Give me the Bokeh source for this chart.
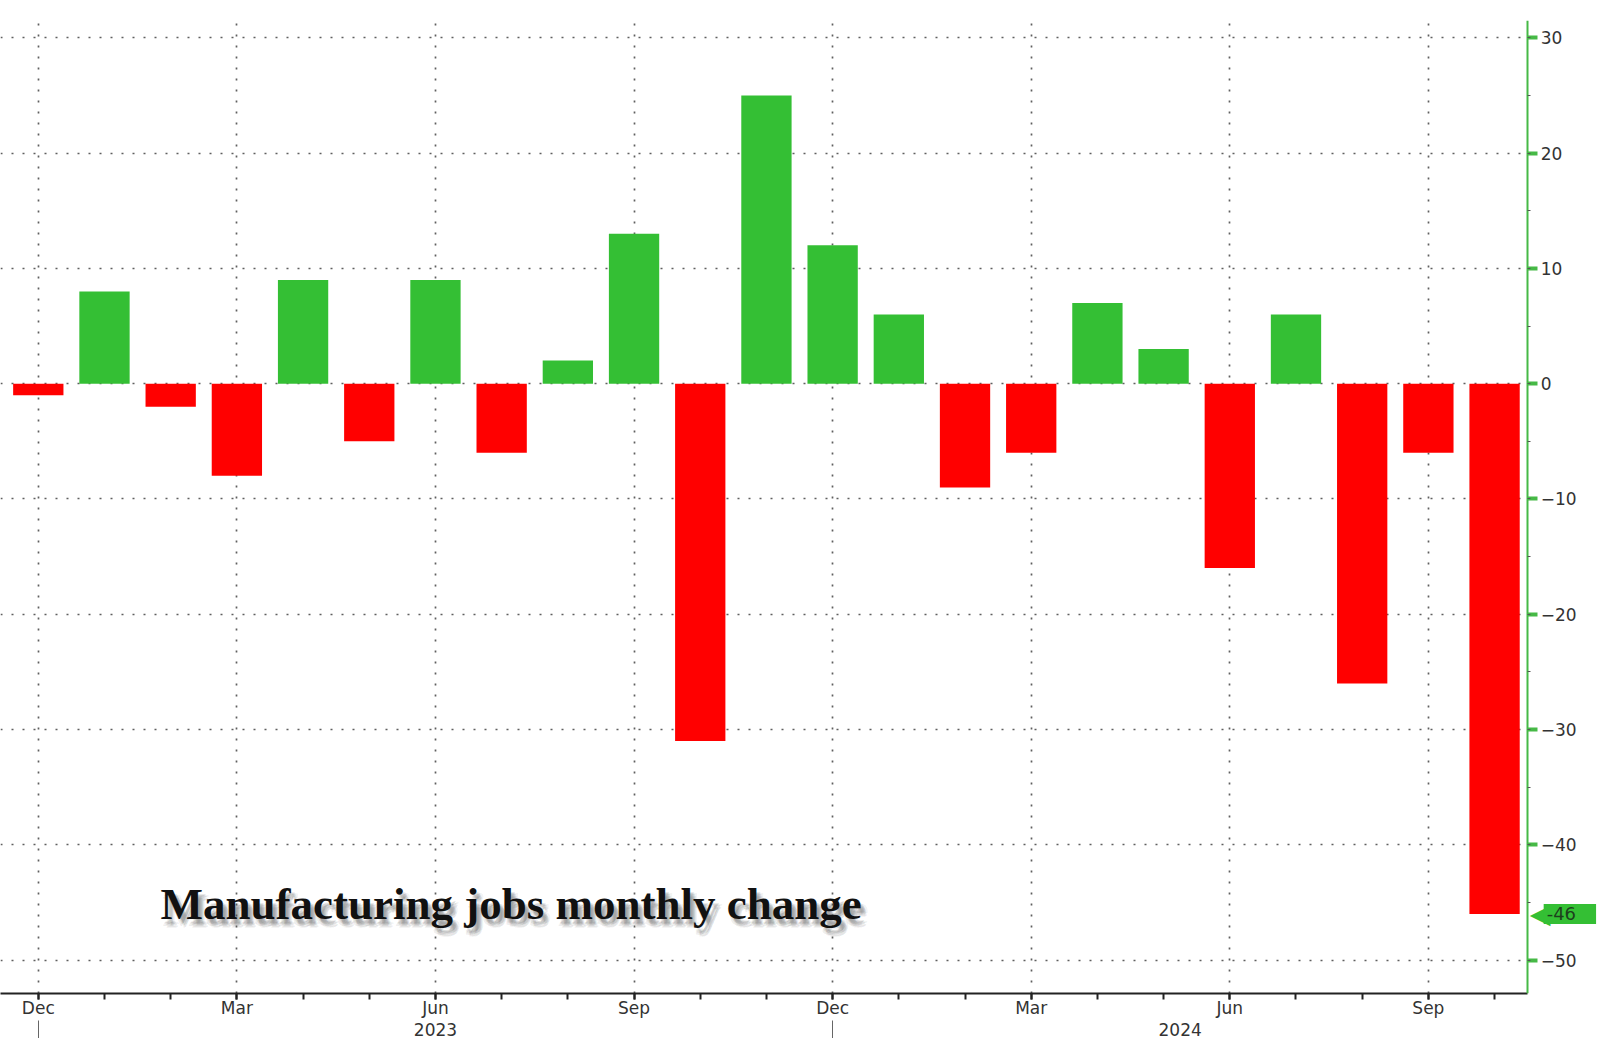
from bokeh.plotting import figure
from bokeh.models import Range1d, LinearAxis, FixedTicker, Label, ColumnDataSource, BoxAnnotation
from bokeh.embed import file_html
from bokeh.resources import INLINE

# ---- data ----
months = ["Dec", "Jan", "Feb", "Mar", "Apr", "May", "Jun", "Jul", "Aug", "Sep", "Oct", "Nov",
          "Dec", "Jan", "Feb", "Mar", "Apr", "May", "Jun", "Jul", "Aug", "Sep", "Oct"]
changes = [-1, 8, -2, -8, 9, -5, 9, -6, 2, 13, -31, 25,
           12, 6, -9, -6, 7, 3, -16, 6, -26, -6, -46]
years = ["2023", "2024"]
year_pos = [6, 17.25]
year_breaks = [0, 12]
y_ticks = [30, 20, 10, 0, -10, -20, -30, -40, -50]
y_minor = list(range(-50, 35, 5))
title_text = "Manufacturing jobs monthly change"

GREEN = "#34BF34"
RED = "#FF0000"
AXIS_GREEN = "#46B946"
TXT = "#333333"
FONT = "DejaVu Sans"

X0, XAXIS, X1 = -0.571, 22.5, 23.57

x = list(range(len(changes)))
colors = [GREEN if v >= 0 else RED for v in changes]
src = ColumnDataSource(dict(x=x, top=changes, color=colors))

p = figure(frame_width=1598, frame_height=973,
           x_range=Range1d(X0, X1), y_range=Range1d(-52.9, 31.5),
           output_backend="svg", toolbar_location=None, y_axis_location="right",
           min_border_left=0, min_border_right=0, min_border_top=20, min_border_bottom=0,
           background_fill_color="white", border_fill_color="white", outline_line_color=None)

# ---- grid ----
for g in (p.xgrid[0], p.ygrid[0]):
    g.grid_line_color = "#5f5f5f"
    g.grid_line_dash = "2 9"
    g.grid_line_width = 1.7

# blank strip to the right of the value axis (hides grid there)
p.add_layout(BoxAnnotation(left=XAXIS, level="underlay", fill_color="white",
                           fill_alpha=1, line_color=None))

p.vbar(x="x", top="top", bottom=0, width=0.76, fill_color="color", line_color=None, source=src)

# ---- x axis (months) ----
major_idx = [i for i, m in enumerate(months) if m in ("Dec", "Mar", "Jun", "Sep")]
xa = p.xaxis[0]
xa.ticker = FixedTicker(ticks=major_idx, minor_ticks=x)
xa.bounds = (X0, XAXIS)
xa.major_label_overrides = {i: months[i] for i in major_idx}
xa.axis_line_color = "#222222"
xa.axis_line_width = 2
xa.major_tick_line_color = "#222222"
xa.minor_tick_line_color = "#222222"
xa.major_tick_line_width = 2
xa.minor_tick_line_width = 2
xa.major_tick_out = 6
xa.major_tick_in = 0
xa.minor_tick_out = 6
xa.minor_tick_in = 0
xa.major_label_standoff = -2
xa.major_label_text_font = FONT
xa.major_label_text_font_size = "17px"
xa.major_label_text_color = TXT

# year labels + separator ticks (minor ticks at year breaks)
xa2 = LinearAxis(ticker=FixedTicker(ticks=year_pos, minor_ticks=year_breaks),
                 major_label_overrides={pos: yr for pos, yr in zip(year_pos, years)},
                 major_label_text_font=FONT, major_label_text_font_size="17px",
                 major_label_text_color=TXT, major_label_standoff=-20,
                 axis_line_color=None, major_tick_out=0, major_tick_in=0,
                 major_tick_line_color=None,
                 minor_tick_out=22, minor_tick_in=0,
                 minor_tick_line_color="#666666", minor_tick_line_width=1)
p.add_layout(xa2, "below")

# ---- y axis (right, drawn at the end of the time axis) ----
ya = p.yaxis[0]
ya.fixed_location = XAXIS
ya.ticker = FixedTicker(ticks=y_ticks, minor_ticks=y_minor)
ya.axis_line_color = AXIS_GREEN
ya.axis_line_width = 2
ya.major_tick_line_color = AXIS_GREEN
ya.major_tick_line_width = 4
ya.major_tick_out = 10
ya.major_tick_in = 0
ya.minor_tick_line_color = "#555555"
ya.minor_tick_out = 3
ya.minor_tick_in = 0
ya.major_label_standoff = 3
ya.major_label_text_font = FONT
ya.major_label_text_font_size = "17px"
ya.major_label_text_color = TXT

# ---- last value tag ----
last = changes[-1]
p.add_layout(Label(x=XAXIS, y=last, x_units="data", y_units="data", text="\u25C0",
                   x_offset=2, text_align="left", text_baseline="middle", level="overlay",
                   text_font=FONT, text_font_size="27px", text_color=GREEN))
p.add_layout(Label(x=XAXIS, y=last, x_units="data", y_units="data", text=str(last),
                   x_offset=16, text_align="left", text_baseline="middle", level="overlay",
                   text_font=FONT, text_font_size="18px", text_color="#1d3f1d",
                   background_fill_color=GREEN, padding=(3, 20, 3, 4)))

# ---- title with soft shadow ----
for dx, dy, a in [(3, -5, 0.12), (5, -6, 0.12), (4, -4, 0.12), (6, -8, 0.10),
                  (2, -7, 0.10), (7, -5, 0.08), (5, -9, 0.06)]:
    p.add_layout(Label(x=160 + dx, y=90 + dy, x_units="screen", y_units="screen",
                       text=title_text, text_font="Liberation Serif", text_font_style="bold",
                       text_font_size="45px", text_color="#555555", text_alpha=a,
                       text_baseline="alphabetic"))
p.add_layout(Label(x=160, y=90, x_units="screen", y_units="screen",
                   text=title_text, text_font="Liberation Serif", text_font_style="bold",
                   text_font_size="45px", text_color="#111111",
                   text_baseline="alphabetic"))

open("out.html", "w").write(file_html(p, INLINE))
